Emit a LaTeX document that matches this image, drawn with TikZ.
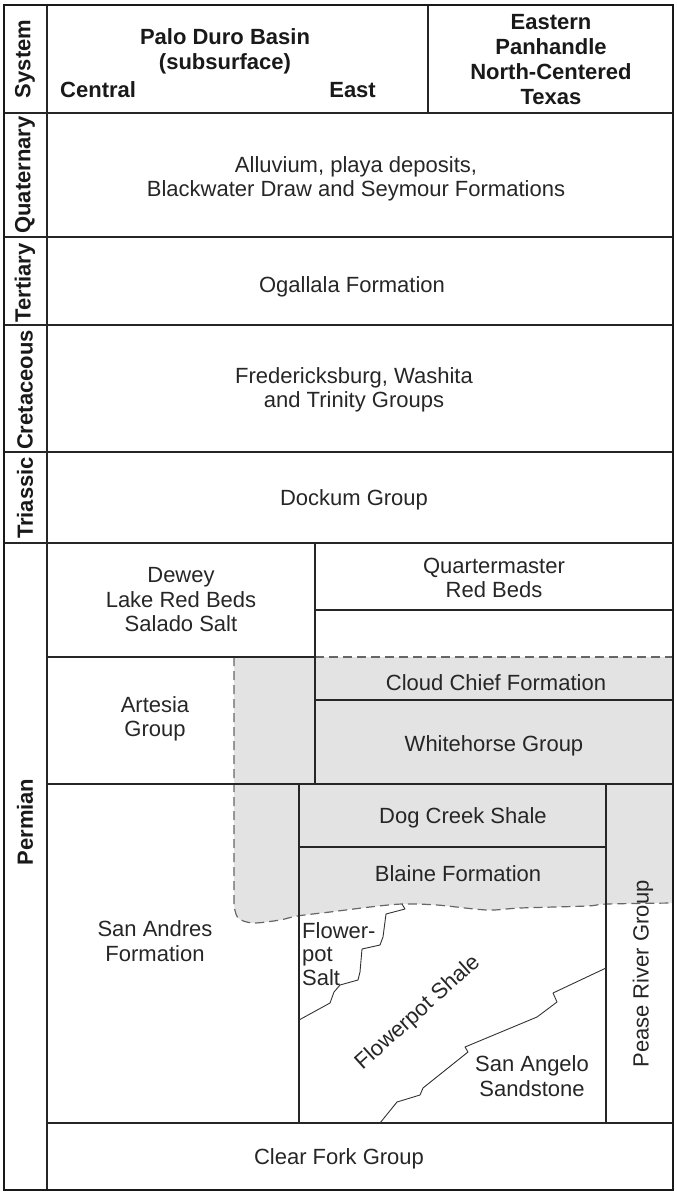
\documentclass[tikz,border=0pt]{standalone}
\usepackage{fontspec}
\setmainfont{Liberation Sans}
\begin{document}
\begin{tikzpicture}[x=1pt,y=-1pt,
  gridline/.style={line width=1.4pt, draw=black!85},
  frameline/.style={line width=2pt, draw=black!90},
  contact/.style={line width=1.2pt, draw=black!60, dash pattern=on 9pt off 5pt},
  jagline/.style={line width=0.9pt, draw=black!80, line join=round},
  shadefill/.style={fill=black!11},
  lbl/.style={inner sep=0pt, align=center, text=black!85, font=\fontsize{22}{24.5}\selectfont},
  hdr/.style={inner sep=0pt, align=center, text=black!90, font=\fontsize{22}{25}\selectfont\bfseries},
  syslbl/.style={hdr, rotate=90}]
\useasboundingbox (0,0) rectangle (677,1194);
% shaded evaporite zone
\fill[shadefill] (234,657) -- plot[smooth] coordinates {(234,905) (238,918) (253,923) (280,920) (297,916) (330,912) (370,907) (402,904) (437,905) (487,910) (520,908) (587,906) (607,904) (673,903)} -- (673,657) -- cycle;
\draw[contact] (234,657) -- plot[smooth] coordinates {(234,905) (238,918) (253,923) (280,920) (297,916) (330,912) (370,907) (402,904) (437,905) (487,910) (520,908) (587,906) (607,904) (673,903)};
\draw[contact] (315,657) -- (673,657);
% grid
\draw[gridline] (47,5) -- (47,1190);
\draw[gridline] (4,113) -- (673,113);
\draw[gridline] (428,5) -- (428,113);
\draw[gridline] (4,237) -- (673,237);
\draw[gridline] (4,325) -- (673,325);
\draw[gridline] (4,452) -- (673,452);
\draw[gridline] (4,543) -- (673,543);
\draw[gridline] (47,1123) -- (673,1123);
\draw[gridline] (315,543) -- (315,784);
\draw[gridline] (315,610) -- (673,610);
\draw[gridline] (47,657) -- (315,657);
\draw[gridline] (315,700) -- (673,700);
\draw[gridline] (47,784) -- (673,784);
\draw[gridline] (299,784) -- (299,1123);
\draw[gridline] (606,784) -- (606,1123);
\draw[gridline] (299,847) -- (606,847);
% facies boundaries
\draw[jagline] (402,904) -- (405,909) -- (386,914) -- (383,937) -- (380,945) -- (362,949) -- (360,972) -- (358,980) -- (340,985) -- (334,992) -- (330,1003) -- (299,1020);
\draw[jagline] (606,968) -- (553,993) -- (557,1002) -- (537,1017) -- (465,1047) -- (468,1052) -- (423,1088) -- (420,1095) -- (397,1102) -- (380,1123);
% outer frame
\draw[frameline] (4,5) rectangle (673,1190);
% header
\node[syslbl] (system) at (25,59) {System};
\node[hdr] (palo) at (225,51) {Palo Duro Basin\\(subsurface)};
\node[hdr, anchor=west] (central) at (60,90) {Central};
\node[hdr, anchor=east] (east) at (376,90) {East};
\node[hdr] (eastern) at (551,60) {Eastern\\Panhandle\\North-Centered\\Texas};
% system labels
\node[syslbl] (quat) at (25,175) {Quaternary};
\node[syslbl] (tert) at (25,283) {Tertiary};
\node[syslbl] (cret) at (25,390) {Cretaceous};
\node[syslbl] (tria) at (25,498) {Triassic};
\node[syslbl] (perm) at (25,822) {Permian};
% units
\node[lbl] (alluvium) at (356,179) {Alluvium, playa deposits,\\Blackwater Draw and Seymour Formations};
\node[lbl] (ogallala) at (352,287) {Ogallala Formation};
\node[lbl] (fred) at (354,390) {Fredericksburg, Washita\\and Trinity Groups};
\node[lbl] (dockum) at (354,500) {Dockum Group};
\node[lbl] (dewey) at (181,600) {Dewey\\Lake Red Beds\\Salado Salt};
\node[lbl] (quarter) at (494,578) {Quartermaster\\Red Beds};
\node[lbl] (cloud) at (496,683) {Cloud Chief Formation};
\node[lbl] (artesia) at (155,719) {Artesia\\Group};
\node[lbl] (white) at (494,746) {Whitehorse Group};
\node[lbl] (dog) at (463,818) {Dog Creek Shale};
\node[lbl] (blaine) at (458,874) {Blaine Formation};
\node[lbl] (sanandres) at (155,941) {San Andres\\Formation};
\node[lbl, align=left, anchor=west, font=\fontsize{22}{23.5}\selectfont] (fsalt) at (302,954) {Flower-\\pot\\Salt};
\node[lbl, rotate=42] (fshale) at (418,1013) {Flowerpot Shale};
\node[lbl] (sanangelo) at (532,1076) {San Angelo\\Sandstone};
\node[lbl, rotate=90] (pease) at (643,974) {Pease River Group};
\node[lbl] (clearfork) at (339,1159) {Clear Fork Group};
\end{tikzpicture}
\end{document}
